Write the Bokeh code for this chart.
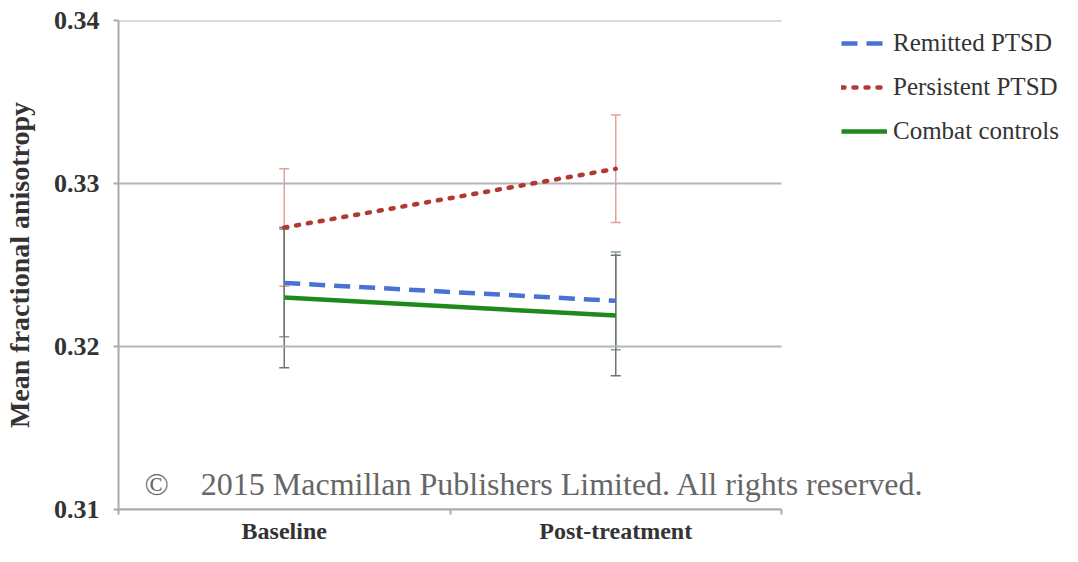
from bokeh.plotting import figure
from bokeh.models import (Range1d, FixedTicker, Legend, LegendItem, Whisker,
                          ColumnDataSource, TeeHead, Label)
from bokeh.embed import file_html
from bokeh.resources import INLINE

# ---- data ----
timepoints = ["Baseline", "Post-treatment"]
remitted = [0.3239, 0.3228]
remitted_err = [0.0033, 0.0030]
persistent = [0.3273, 0.3309]
persistent_err = [0.0036, 0.0033]
combat = [0.3230, 0.3219]
combat_err = [0.0043, 0.0037]
y_ticks = [0.31, 0.32, 0.33, 0.34]

n = len(timepoints)
xpos = [i + 0.5 for i in range(n)]
FONT = "Liberation Serif"

# frame spans the full width so the legend and the notice are not clipped;
# the data area (0..n) covers the left part of it
x_end = n * 944 / 663

p = figure(width=1062, height=546, output_backend="svg", toolbar_location=None,
           x_range=Range1d(0, x_end), y_range=Range1d(0.31, 0.34),
           min_border_left=118, min_border_right=0, min_border_top=20,
           min_border_bottom=33)
p.outline_line_color = None
p.background_fill_color = "white"

# gridlines limited to the data area
p.segment(x0=[0] * len(y_ticks), x1=[n] * len(y_ticks), y0=y_ticks, y1=y_ticks,
          line_color="#b5b5b5", line_width=2)
p.xgrid.grid_line_color = None
p.ygrid.grid_line_color = None

# axes
p.xaxis.bounds = (0, n)
p.xaxis.ticker = FixedTicker(ticks=xpos, minor_ticks=list(range(n + 1)))
p.xaxis.major_label_overrides = {x: t for x, t in zip(xpos, timepoints)}
p.xaxis.major_tick_line_color = None
p.xaxis.major_tick_out = 0
p.xaxis.major_tick_in = 0
p.xaxis.minor_tick_line_color = "#aaaaaa"
p.xaxis.minor_tick_line_width = 2
p.xaxis.minor_tick_out = 5
p.xaxis.minor_tick_in = 0
p.xaxis.axis_line_color = "#aaaaaa"
p.xaxis.axis_line_width = 2
p.xaxis.major_label_text_font = FONT
p.xaxis.major_label_text_font_size = "24px"
p.xaxis.major_label_text_font_style = "bold"
p.xaxis.major_label_text_color = "#333333"
p.xaxis.major_label_standoff = 3

p.yaxis.ticker = FixedTicker(ticks=y_ticks)
p.yaxis.major_label_overrides = {v: f"{v:.2f}" for v in y_ticks}
p.yaxis.minor_tick_line_color = None
p.yaxis.major_tick_line_color = "#aaaaaa"
p.yaxis.major_tick_line_width = 2
p.yaxis.major_tick_out = 5
p.yaxis.major_tick_in = 0
p.yaxis.axis_line_color = "#aaaaaa"
p.yaxis.axis_line_width = 2
p.yaxis.major_label_text_font = FONT
p.yaxis.major_label_text_font_size = "26px"
p.yaxis.major_label_text_font_style = "bold"
p.yaxis.major_label_text_color = "#333333"
p.yaxis.major_label_standoff = 14
p.yaxis.axis_label = "Mean fractional anisotropy"
p.yaxis.axis_label_text_font = FONT
p.yaxis.axis_label_text_font_size = "28px"
p.yaxis.axis_label_text_font_style = "bold"
p.yaxis.axis_label_text_color = "#333333"
p.yaxis.axis_label_standoff = 16

# error bars
def add_err(vals, errs, color):
    src = ColumnDataSource(dict(x=xpos, lo=[v - e for v, e in zip(vals, errs)],
                                hi=[v + e for v, e in zip(vals, errs)]))
    w = Whisker(source=src, base="x", lower="lo", upper="hi", dimension="height",
                line_color=color, line_width=1.5,
                upper_head=TeeHead(size=10, line_color=color, line_width=1.5),
                lower_head=TeeHead(size=10, line_color=color, line_width=1.5))
    p.add_layout(w)

add_err(persistent, persistent_err, "#e3a0a0")
add_err(remitted, remitted_err, "#8c96a8")
add_err(combat, combat_err, "#667a66")

r1 = p.line(xpos, remitted, line_color="#4a72d4", line_width=4.5, line_dash="16 9")
r2 = p.line(xpos, persistent, line_color="#b03a30", line_width=4.5, line_dash="3 9",
            line_cap="round")
r3 = p.line(xpos, combat, line_color="#1d8a1d", line_width=4.5)

legend = Legend(items=[LegendItem(label="Remitted PTSD", renderers=[r1]),
                       LegendItem(label="Persistent PTSD", renderers=[r2]),
                       LegendItem(label="Combat controls", renderers=[r3])],
                location=(723, 364), orientation="vertical",
                glyph_width=46, glyph_height=26, label_height=26,
                spacing=16, padding=0, margin=0, label_standoff=6,
                border_line_color=None, background_fill_alpha=0,
                label_text_font=FONT, label_text_font_size="25px",
                label_text_color="#333333")
p.add_layout(legend, "center")

p.add_layout(Label(x=26, y=26, x_units="screen", y_units="screen",
                   text="\u00a9\u00a0\u00a0\u00a0\u00a02015 Macmillan Publishers Limited. All rights reserved.",
                   text_baseline="alphabetic",
                   text_font=FONT, text_font_size="32px", text_color="#666666"))

open("out.html", "w").write(file_html(p, INLINE))
